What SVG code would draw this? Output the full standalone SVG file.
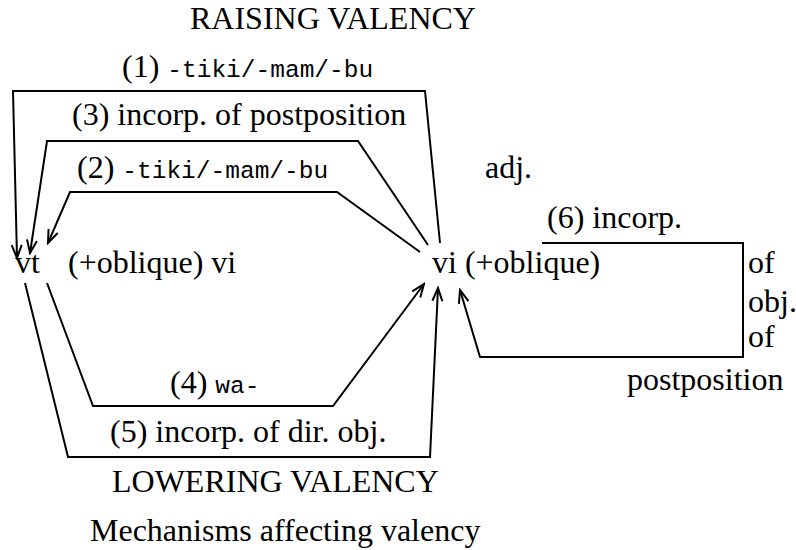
<svg xmlns="http://www.w3.org/2000/svg" width="796" height="550" viewBox="0 0 796 550">
<style>
text{font-family:"Liberation Serif","Times New Roman",serif;font-size:32px;fill:#000}
.m{font-family:"Liberation Mono","Courier New",monospace;font-size:24.5px}
.c{fill:none;stroke:#000;stroke-width:2}
</style>
<defs>
<marker id="a" markerWidth="16" markerHeight="16" viewBox="-14 -8 16 16" refX="0" refY="0" orient="auto" markerUnits="userSpaceOnUse">
<path d="M-13,-5 L0,0 L-13,5" fill="none" stroke="#000" stroke-width="2"/>
</marker>
</defs>
<rect width="796" height="550" fill="#fff"/>
<g id="labels">
<text x="190" y="29">RAISING VALENCY</text>
<text x="122" y="77">(1) <tspan class="m">-tiki/-mam/-bu</tspan></text>
<text x="72" y="125">(3) incorp. of postposition</text>
<text x="77" y="178">(2) <tspan class="m">-tiki/-mam/-bu</tspan></text>
<text x="485" y="178">adj.</text>
<text x="547" y="228">(6) incorp.</text>
<text x="748" y="273">of</text>
<text x="748" y="312">obj.</text>
<text x="748" y="347">of</text>
<text x="627" y="390">postposition</text>
<text x="170" y="393">(4) <tspan class="m">wa-</tspan></text>
<text x="110" y="442">(5) incorp. of dir. obj.</text>
<text x="112" y="492">LOWERING VALENCY</text>
<text x="90" y="541">Mechanisms affecting valency</text>
</g>
<g id="node-vt"><text x="15" y="273">vt</text></g>
<g id="node-vi-oblique-left"><text x="68" y="273">(+oblique) vi</text></g>
<g id="node-vi"><text x="432" y="273">vi (+oblique)</text></g>
<g id="connectors">
<polyline class="c" points="440,243 425,91 13,91 17,258" marker-end="url(#a)"/>
<polyline class="c" points="428,245 358,141 47,141 30,253" marker-end="url(#a)"/>
<polyline class="c" points="420,252 337,192 70,192 48,243" marker-end="url(#a)"/>
<polyline class="c" points="47,283 93,406 333,406 424,284" marker-end="url(#a)"/>
<polyline class="c" points="25,283 68,457 430,457 438,288" marker-end="url(#a)"/>
<polyline class="c" points="542,243 743,243 743,357 480,357 460,290" marker-end="url(#a)"/>
</g>
</svg>
